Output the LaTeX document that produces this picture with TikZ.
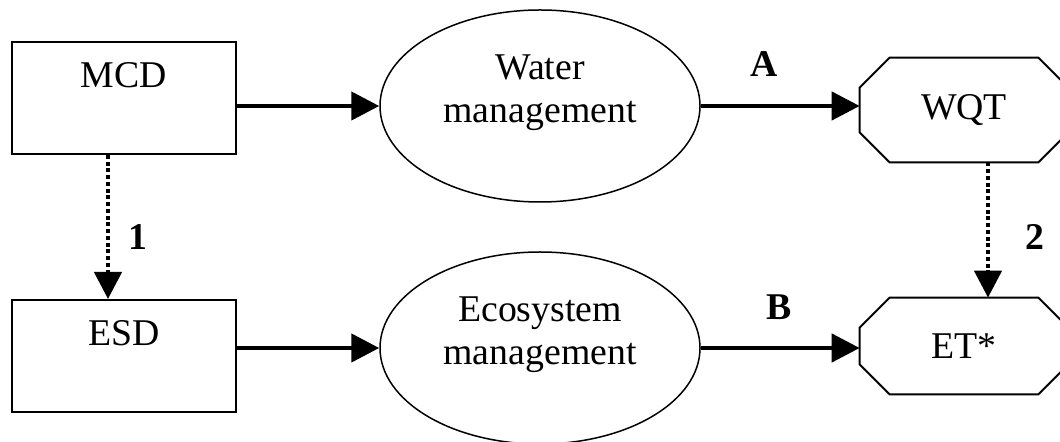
\documentclass[tikz,border=0pt]{standalone}
\usepackage{fontspec}
\setmainfont{Liberation Serif}
\usetikzlibrary{arrows.meta,shapes.geometric}

\newcommand{\figfont}{\fontsize{21.5}{24.5}\selectfont}
\tikzset{
  box/.style={draw,line width=0.04cm,rectangle,minimum width=4.48cm,inner sep=0pt,
    text height=0.92cm,text depth=1.32cm},
  oval/.style={draw,line width=0.03cm,ellipse,minimum width=6.4cm,minimum height=3.84cm,
    inner sep=0pt,align=center,text height=1.6cm,text depth=0.92cm},
  octo/.style={rectangle,minimum width=4.16cm,inner sep=0pt},
  flow/.style={line width=0.09cm,-{Triangle[length=0.56cm,width=0.56cm]}},
  dep/.style={line width=0.09cm,dash pattern=on 0.08cm off 0.055cm,
    -{Triangle[length=0.54cm,width=0.54cm]}},
  tag/.style={inner sep=0pt,font=\figfont\bfseries}
}
\newcommand{\octframe}[1]{%
  \draw[line width=0.04cm] ([xshift=0.6cm]#1.north west) -- ([xshift=-0.6cm]#1.north east)
    -- ([yshift=-0.6cm]#1.north east) -- ([yshift=0.6cm]#1.south east)
    -- ([xshift=-0.6cm]#1.south east) -- ([xshift=0.6cm]#1.south west)
    -- ([yshift=0.6cm]#1.south west) -- ([yshift=-0.6cm]#1.north west) -- cycle;}

\begin{document}
\begin{tikzpicture}[font=\figfont]
\useasboundingbox (0,0) rectangle (21.2,8.84);
\draw (2.48,6.88) node[box](mcd) {MCD};
\draw (2.48,1.72) node[box](esd) {ESD};
\draw (10.8,6.72) node[oval](water) {Water\\management};
\draw (10.8,1.88) node[oval](eco) {Ecosystem\\management};
\draw (19.28,6.64) node[octo,minimum height=2.08cm](wqt) {WQT};
\draw (19.28,1.92) node[octo,minimum height=1.92cm](et) {ET*};
\octframe{wqt}
\octframe{et}
\draw[flow] (mcd.east |- water) -- (water.west);
\draw[flow] (esd.east |- eco) -- (eco.west);
\draw[flow] (water.east) -- (water.east -| wqt.west)
  node[tag,pos=0.4,above=0.54cm] (a) {A};
\draw[flow] (eco.east) -- (eco.east -| et.west)
  node[tag,pos=0.49,above=0.52cm] (b) {B};
\draw[dep] ([xshift=-0.32cm]mcd.south) -- ([xshift=-0.32cm]esd.north)
  node[tag,pos=0.57,right=0.36cm] (one) {1};
\draw[dep] ([xshift=0.48cm]wqt.south) -- ([xshift=0.48cm]et.north)
  node[tag,pos=0.55,right=0.7cm] (two) {2};
\end{tikzpicture}
\end{document}
